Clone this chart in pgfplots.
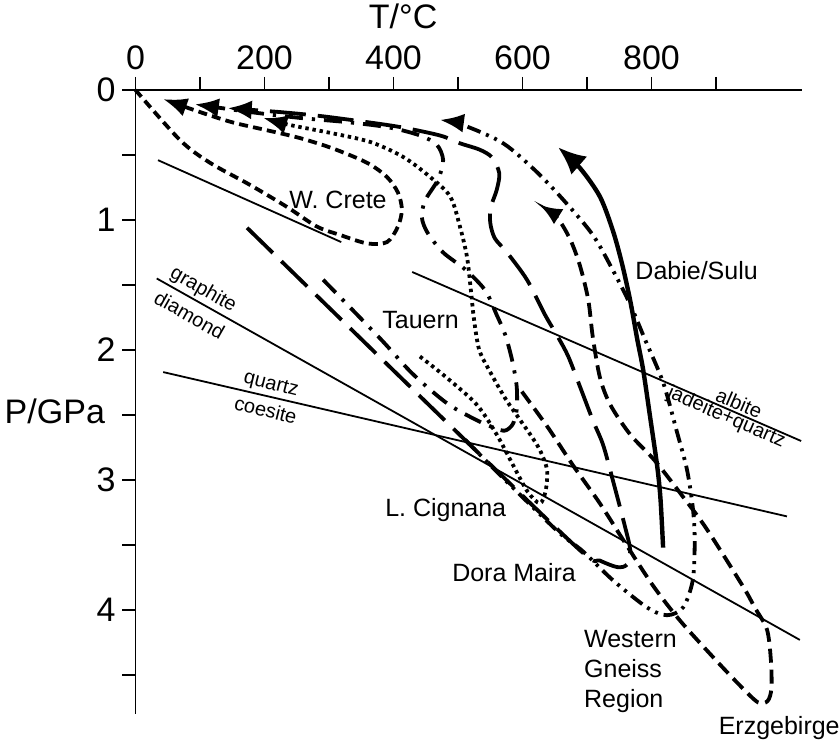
\documentclass[border=0pt]{standalone}
\usepackage{fontspec}
\setmainfont{Liberation Sans}
\usepackage{pgfplots}
\pgfplotsset{compat=1.18}
\usetikzlibrary{arrows.meta}
\tikzset{
  lbl/.style={font=\fontsize{12.5bp}{15bp}\selectfont},
  sm/.style={font=\fontsize{10bp}{11bp}\selectfont},
  thinline/.style={line width=0.9bp, black},
  pth/.style={line width=1.9bp, black, smooth, tension=0.5},
  tipA/.style={-{Latex[length=12bp,width=9.5bp]}},
}
\begin{document}
\begin{tikzpicture}
\begin{axis}[
  x=0.3225bp, y=65bp, y dir=reverse,
  xmin=0, xmax=1033, ymin=0, ymax=4.8,
  axis x line=top, axis y line=left,
  axis line style={-, line width=0.9bp, black},
  clip=false,
  xtick={0,200,...,800}, minor xtick={100,300,...,900},
  ytick={0,1,...,4}, minor ytick={0.5,1.5,...,4.5},
  tick align=outside, major tick length=6.5bp, minor tick length=6.5bp,
  every tick/.style={line width=0.9bp, black},
  tick label style={font=\fontsize{17bp}{20bp}\selectfont},
  /pgf/number format/assume math mode=true,
]
% reaction lines
\addplot[thinline, no marks] coordinates {(35,0.54) (319,1.17)};
\addplot[thinline, no marks] coordinates {(33,1.45) (1030,4.23)};
\addplot[thinline, no marks] coordinates {(43,2.17) (1010,3.28)};
\addplot[thinline, no marks] coordinates {(429,1.40) (1032,2.70)};
% W. Crete
\addplot[pth, no marks, dash pattern=on 4.5bp off 2.6bp, tipA] coordinates {
(0,0) (69,0.385) (115.5,0.56) (177.5,0.73) (235,0.90) (281,1.05) (317,1.115) (359,1.18) (390,1.17) (407,1.05) (413,0.92) (407,0.79) (390,0.67) (359,0.56) (306,0.45) (255,0.37) (204,0.31) (151,0.25) (100,0.17) (43,0.07)};
% Tauern
\addplot[pth, no marks, dash pattern=on 9bp off 4.5bp on 1.6bp off 4.5bp, tipA] coordinates {
(291,1.46) (379,1.91) (429,2.18) (483,2.41) (529,2.54) (557,2.60) (573,2.62) (585,2.57) (591,2.46) (591,2.28) (584,2.08) (573,1.88) (560,1.73) (542,1.54) (511,1.38) (477,1.25) (453,1.10) (444,0.98) (449,0.85) (469,0.69) (477,0.54) (467,0.42) (441,0.35) (395,0.29) (333,0.25) (255,0.215) (178,0.17) (92,0.11)};
% Dora Maira
\addplot[pth, no marks, dash pattern=on 18bp off 6bp, tipA] coordinates {
(173,1.06) (498,2.63) (689,3.54) (720,3.62) (747,3.67) (762,3.65) (767,3.54) (759,3.36) (740,3.0) (725,2.73) (709,2.54) (689,2.28) (671,2.05) (655,1.90) (635,1.73) (607,1.46) (576,1.25) (557,1.14) (550,1.02) (551,0.90) (560,0.77) (564,0.64) (553,0.52) (534,0.46) (503,0.41) (472,0.35) (410,0.285) (348,0.24) (286,0.2) (224,0.17) (143,0.14)};
% L. Cignana
\addplot[pth, no marks, dash pattern=on 1.7bp off 1.9bp, tipA] coordinates {
(441,2.05) (483,2.215) (529,2.42) (560,2.65) (588,2.91) (608,3.09) (627,3.18) (636,3.08) (638,2.92) (627,2.77) (612,2.65) (593,2.515) (573,2.37) (550,2.17) (533,2.0) (525,1.77) (520,1.54) (514,1.285) (503,1.05) (488,0.82) (457,0.67) (415,0.515) (364,0.40) (302,0.33) (240,0.27) (198,0.215)};
% Western Gneiss Region
\addplot[pth, no marks, dash pattern=on 7bp off 3bp on 1.5bp off 3bp on 1.5bp off 3bp, tipA] coordinates {
(511,2.69) (565,2.96) (612,3.19) (658,3.41) (694,3.55) (740,3.77) (793,3.98) (824,4.04) (849,3.98) (864,3.77) (867,3.46) (864,3.21) (855,2.92) (840,2.64) (818,2.25) (790,1.92) (767,1.65) (740,1.385) (709,1.115) (666,0.86) (622,0.63) (570,0.41) (508,0.27) (472,0.23)};
% Erzgebirge
\addplot[pth, no marks, dash pattern=on 7bp off 3.5bp, -{Latex[length=11bp,width=9bp]}] coordinates {
(599,2.32) (640,2.6) (678,2.885) (720,3.18) (756,3.46) (802,3.81) (844,4.08) (895,4.36) (937,4.58) (965,4.71) (980,4.70) (986,4.6) (985,4.38) (979,4.15) (960,3.98) (942,3.82) (886,3.38) (849,3.13) (805,2.85) (767,2.65) (736,2.42) (720,2.21) (709,1.9) (702,1.615) (689,1.35) (674,1.15) (654,0.985) (627,0.885)};
% Dabie/Sulu
\addplot[pth, no marks, line width=2.2bp, -{Latex[length=14bp,width=12bp]}] coordinates {
(818,3.52) (814,3.15) (809,2.90) (798,2.52) (787,2.15) (778,1.92) (767,1.62) (754,1.33) (740,1.08) (720,0.82) (689,0.6) (655,0.44)};
% labels
\node[lbl] at (axis cs:314,0.846) {W. Crete};
\node[lbl] at (axis cs:442,1.77) {Tauern};
\node[lbl] at (axis cs:870,1.39) {Dabie/Sulu};
\node[lbl] at (axis cs:481,3.23) {L. Cignana};
\node[lbl] at (axis cs:587,3.71) {Dora Maira};
\node[lbl, anchor=west, align=left, inner sep=0pt] at (axis cs:695,4.47) {Western\\Gneiss\\Region};
\node[lbl] at (axis cs:998,4.91) {Erzgebirge};
\node[font=\fontsize{17bp}{20bp}\selectfont] at (axis cs:415,-0.57) {T/°C};
\node[font=\fontsize{17bp}{20bp}\selectfont] at (axis cs:-125,2.47) {P/GPa};
\node[sm, rotate=-29.5] at (axis cs:105,1.54) {graphite};
\node[sm, rotate=-29.5] at (axis cs:84,1.73) {diamond};
\node[sm, rotate=-14] at (axis cs:210,2.27) {quartz};
\node[sm, rotate=-14] at (axis cs:202,2.46) {coesite};
\node[sm, rotate=-23.5] at (axis cs:936,2.41) {albite};
\node[sm, rotate=-23.5] at (axis cs:916,2.52) {jadeite+quartz};
\coordinate (BL) at (axis cs:-210,5.015);
\coordinate (TR) at (axis cs:1090.7,-0.692);
\end{axis}
\pgfresetboundingbox
\path (BL) rectangle (TR);
\end{tikzpicture}
\end{document}
